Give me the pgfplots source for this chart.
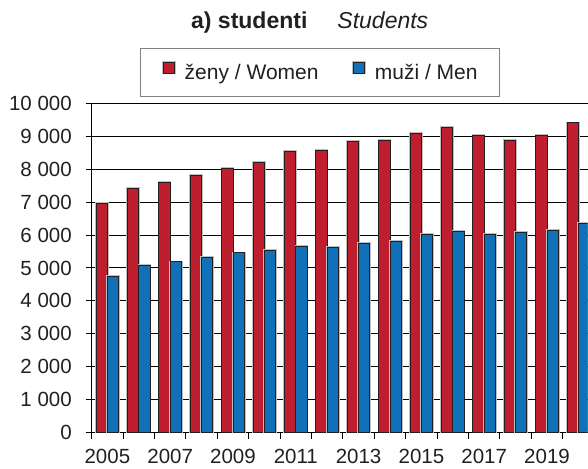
\documentclass[border=0pt]{standalone}
\usepackage{fontspec}
\setmainfont{Liberation Sans}
\usepackage{pgfplots}
\pgfplotsset{compat=1.18}
\definecolor{cRed}{RGB}{190,30,45}
\definecolor{cBlue}{RGB}{16,113,185}
\definecolor{textc}{RGB}{35,31,32}
\begin{document}
\begin{tikzpicture}
\begin{axis}[
  at={(0,0)}, anchor=south west,
  scale only axis, width=496pt, height=329pt,
  xmin=-0.5, xmax=15.296, ymin=0, ymax=10000,
  axis x line*=bottom, axis y line*=left,
  axis line style={black, line width=1.1pt},
  ybar=0pt, bar width=11.3pt,
  ytick={0,1000,...,10000},
  ymajorgrids, grid style={black, line width=1.0pt},
  tick align=outside,
  major tick length=5.7pt,
  tick style={black, line width=1.0pt},
  xtick={0,2,...,14},
  xticklabels={2005,2007,2009,2011,2013,2015,2017,2019},
  x tick style={draw=none},
  minor xtick={-0.5,0.5,...,15.5},
  minor x tick style={draw=black, line width=1.0pt},
  minor tick length=6pt,
  /pgf/number format/assume math mode=true,
  /pgf/number format/1000 sep={\ },
  scaled y ticks=false,
  ticklabel style={font=\fontsize{20.5}{24}\selectfont, text=textc, inner sep=0pt},
  xticklabel style={anchor=north, yshift=-11pt},
  yticklabel style={anchor=east, xshift=-14pt},
  title={\textbf{a) studenti}\hspace{30pt}\textit{Students}},
  title style={at={(0.4395,1)}, anchor=base, yshift=68.5pt, inner sep=0pt,
    font=\fontsize{23}{28}\selectfont, text=textc},
  legend columns=2,
  legend style={at={(0.4597,1.095)}, anchor=center,
    draw=gray, line width=1pt, fill=white,
    inner xsep=21.8pt, inner ysep=12.6pt,
    column sep=0pt,
    font=\fontsize{21}{25}\selectfont, text=textc,
    nodes={inner sep=0pt, text height=15.5pt, text depth=4.5pt},
    /tikz/every even column/.append style={column sep=33.4pt}},
  enlarge x limits=false,
]
\addplot[fill=cRed, draw=textc, line width=0.9pt,
  preaction={draw=black!25, line width=2.4pt},
  legend image code/.code={\draw[fill=cRed, draw=textc, line width=0.8pt] (0pt,0.6pt) rectangle (11.5pt,11.8pt); \path (20.5pt,0pt);}]
coordinates {(0,6960) (1,7420) (2,7600) (3,7810) (4,8030) (5,8210) (6,8540) (7,8580) (8,8860) (9,8880) (10,9090) (11,9270) (12,9030) (13,8890) (14,9030) (15,9410)};
\addlegendentry{ženy / Women}
\addplot[fill=cBlue, draw=textc, line width=0.9pt,
  preaction={draw=black!25, line width=2.4pt},
  legend image code/.code={\draw[fill=cBlue, draw=textc, line width=0.8pt] (0pt,0.6pt) rectangle (11.5pt,11.8pt); \path (20.5pt,0pt);}]
coordinates {(0,4750) (1,5080) (2,5190) (3,5330) (4,5460) (5,5540) (6,5650) (7,5620) (8,5750) (9,5820) (10,6030) (11,6110) (12,6020) (13,6080) (14,6150) (15,6350)};
\addlegendentry{muži / Men}
\end{axis}
\pgfresetboundingbox
\path[use as bounding box] (-91.7pt,-35.5pt) rectangle (496.3pt,432.5pt);
\end{tikzpicture}
\end{document}
